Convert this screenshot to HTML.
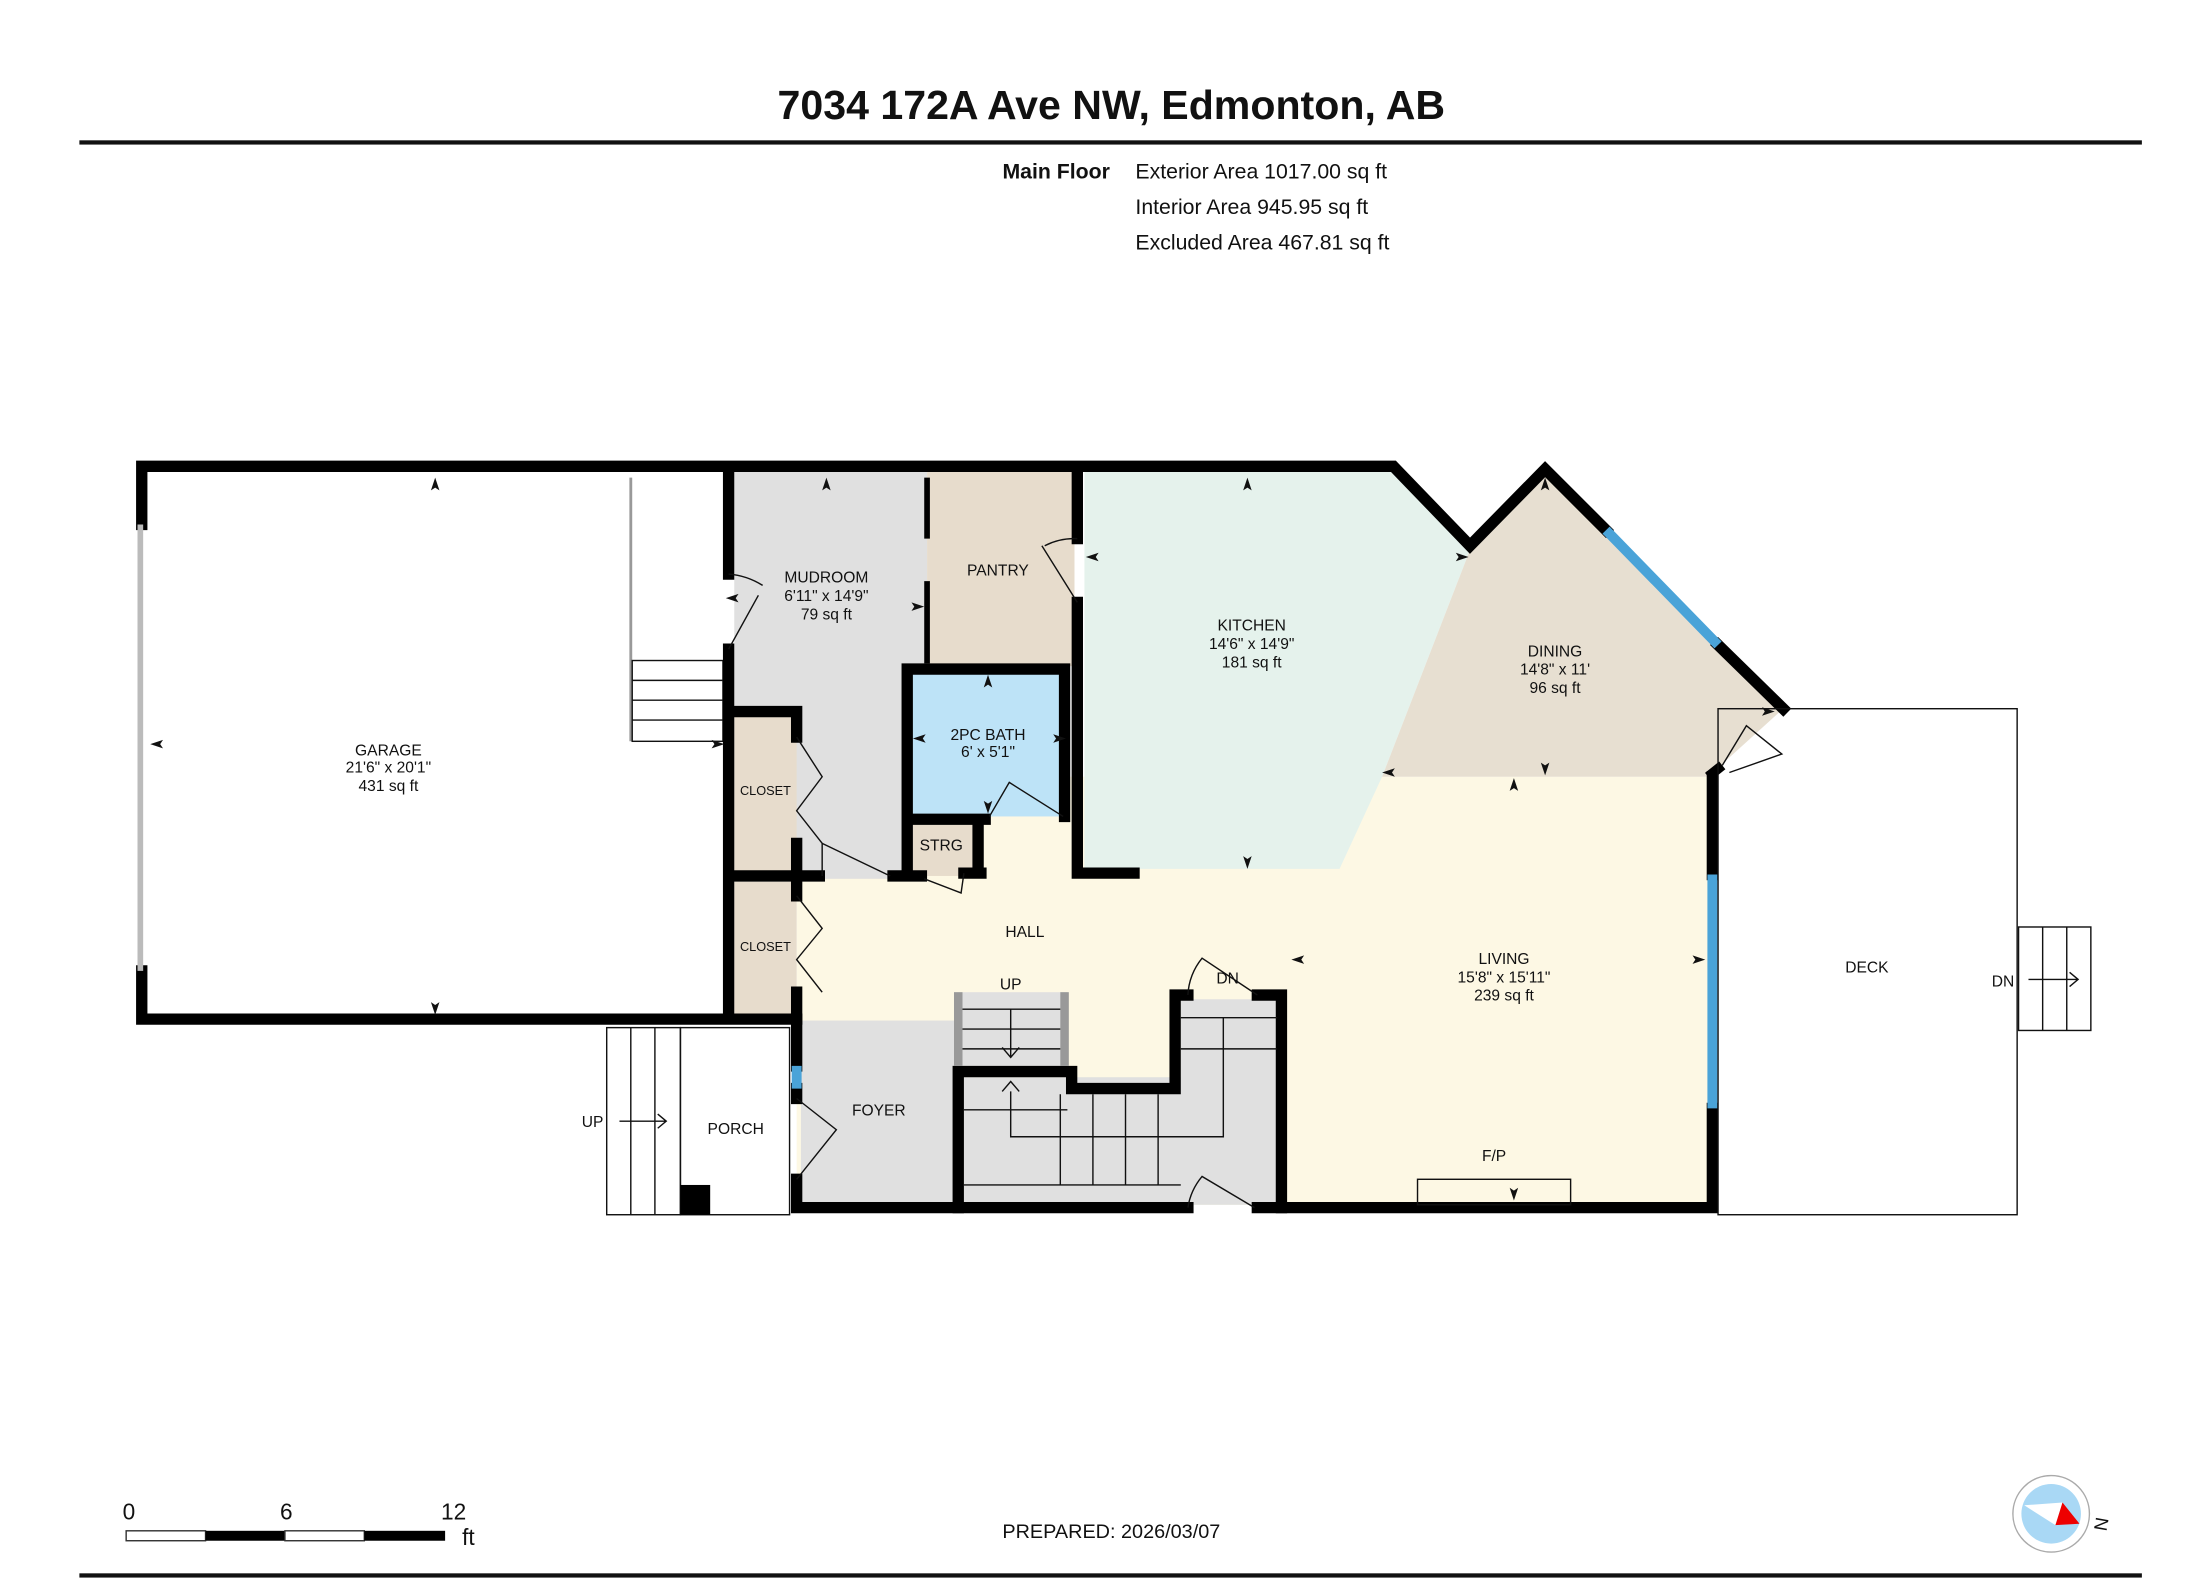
<!DOCTYPE html>
<html><head><meta charset="utf-8"><style>
html,body{margin:0;padding:0;background:#fff}
svg{display:block}
text{font-family:"Liberation Sans",sans-serif;fill:#111}
</style></head><body>
<svg width="2200" height="1579" viewBox="0 0 1552 1114" preserveAspectRatio="none" xmlns="http://www.w3.org/2000/svg">
<defs>
<polygon id="ar" points="0,-6 -3,3 0,1 3,3" fill="#111"/>
</defs>
<!-- header -->
<text x="784" y="84" font-size="29" font-weight="bold" text-anchor="middle">7034 172A Ave NW, Edmonton, AB</text>
<rect x="56" y="99" width="1455" height="3" fill="#111"/>
<text x="783" y="126" font-size="15" font-weight="bold" text-anchor="end">Main Floor</text>
<text x="801" y="126" font-size="15">Exterior Area 1017.00 sq ft</text>
<text x="801" y="151" font-size="15">Interior Area 945.95 sq ft</text>
<text x="801" y="176" font-size="15">Excluded Area 467.81 sq ft</text>

<!-- fills -->
<rect x="562" y="548" width="643" height="302" fill="#fdf8e4"/>
<polygon points="765,333 983,333 1037,388 975,548 945,613 765,613" fill="#e5f2ec"/>
<polygon points="1037,388 1090,335 1258,500 1205,548 975,548" fill="#e7dfd1"/>
<rect x="518" y="333" width="136" height="287" fill="#e0e0e0"/>
<rect x="654" y="333" width="104" height="137" fill="#e7dccc"/>
<rect x="640" y="472" width="112" height="104" fill="#bde3f7"/>
<rect x="640" y="578" width="50" height="40" fill="#e7dccc"/>
<rect x="518" y="500" width="44" height="116" fill="#e7dccc"/>
<rect x="518" y="622" width="44" height="94" fill="#e7dccc"/>
<rect x="565" y="720" width="108" height="130" fill="#e0e0e0"/>
<rect x="673" y="700" width="80" height="52" fill="#e0e0e0"/>
<rect x="680" y="760" width="221" height="90" fill="#e0e0e0"/>
<rect x="833" y="705" width="68" height="60" fill="#e0e0e0"/>

<!-- garage stair -->
<line x1="445" y1="337" x2="445" y2="523" stroke="#999" stroke-width="2"/>
<g stroke="#111" stroke-width="1" fill="none">
<rect x="446" y="466" width="64" height="57"/>
<line x1="446" y1="480" x2="510" y2="480"/><line x1="446" y1="494" x2="510" y2="494"/><line x1="446" y1="508" x2="510" y2="508"/>
</g>
<!-- walls -->
<g stroke="#000" stroke-width="8" fill="none" stroke-linecap="square" stroke-linejoin="miter">
<path d="M100,370 V329 H983 L1037,385 L1090,331 L1133,374"/>
<path d="M1212,455 L1258,500"/>
<path d="M100,685 V719 H558"/>
<path d="M514,333 V405 M514,458 V715"/>
<path d="M518,502 H562 V520 M562,595 V618 M518,618 H578 M630,618 H650"/>
<path d="M562,625 V632 M562,700 V719"/>
<path d="M562,719 V752 M562,768 V775 M562,832 V852 H838 M887,852 H1208 V782 M1208,617 V548"/>
<path d="M640,472 H751 V576 M640,472 V616 M640,578 H695 M690,578 V616 M680,616 H692"/>
<path d="M760,333 V380 M760,425 V616 H800"/>
<path d="M676,756 V852 M676,756 H756 V768 H829 V702 H838 M887,702 H904 V852"/>
</g>
<path d="M1205,548 L1215,540" stroke="#000" stroke-width="7"/>
<line x1="654" y1="337" x2="654" y2="380" stroke="#000" stroke-width="4"/>
<line x1="654" y1="410" x2="654" y2="468" stroke="#000" stroke-width="4"/>
<!-- windows -->
<line x1="99" y1="370" x2="99" y2="685" stroke="#bbb" stroke-width="4"/>
<line x1="1133" y1="374" x2="1212" y2="455" stroke="#4aa3d8" stroke-width="7"/>
<line x1="1208" y1="617" x2="1208" y2="782" stroke="#4aa3d8" stroke-width="7"/>
<line x1="562" y1="752" x2="562" y2="768" stroke="#4aa3d8" stroke-width="7"/>
<!-- stair rails & treads -->
<rect x="673" y="700" width="6" height="52" fill="#999"/><rect x="748" y="700" width="6" height="52" fill="#999"/>
<g stroke="#111" stroke-width="1" fill="none">
<line x1="679" y1="712" x2="748" y2="712"/><line x1="679" y1="726" x2="748" y2="726"/><line x1="679" y1="740" x2="748" y2="740"/>
<path d="M713,712 V746 M707,739 L713,746 L719,739"/>
<line x1="680" y1="783" x2="753" y2="783"/>
<line x1="680" y1="836" x2="833" y2="836"/>
<line x1="748" y1="772" x2="748" y2="836"/><line x1="771" y1="772" x2="771" y2="836"/><line x1="794" y1="772" x2="794" y2="836"/><line x1="817" y1="772" x2="817" y2="836"/>
<path d="M713,770 V802 H863 V718 M707,770 L713,763 L719,770"/>
<line x1="833" y1="718" x2="901" y2="718"/><line x1="833" y1="740" x2="901" y2="740"/>
<!-- doors -->
<path d="M514,458 L535,420 M514,405 A53,53 0 0 1 538,413"/>
<path d="M760,425 L735,385 M760,380 A45,45 0 0 0 737,385"/>
<path d="M562,520 L580,548 L562,572 L580,595 M562,632 L580,655 L562,677 L580,700"/>
<path d="M580,618 L580,595 L628,618"/>
<path d="M652,620 L678,630 L680,616"/>
<path d="M698,576 L712,552 L750,576"/>
<path d="M562,775 L590,797 L562,832"/>
<path d="M838,702 A45,45 0 0 1 848,676 L887,702"/>
<path d="M838,852 A45,45 0 0 1 848,830 L885,852"/>
<path d="M1215,540 L1232,512 L1257,532 L1220,545"/>
</g>
<!-- porch -->
<g stroke="#111" stroke-width="1" fill="none">
<rect x="480" y="725" width="77" height="132"/>
<rect x="428" y="725" width="52" height="132"/>
<line x1="445" y1="725" x2="445" y2="857"/><line x1="462" y1="725" x2="462" y2="857"/>
<path d="M437,791 H470 M464,786 L470,791 L464,796"/>
</g>
<rect x="480" y="836" width="21" height="21" fill="#000"/>
<!-- deck -->
<g stroke="#111" stroke-width="1" fill="none">
<rect x="1212" y="500" width="211" height="357"/>
<rect x="1424" y="654" width="51" height="73"/>
<line x1="1441" y1="654" x2="1441" y2="727"/><line x1="1458" y1="654" x2="1458" y2="727"/>
<path d="M1431,691 H1466 M1460,686 L1466,691 L1460,696"/>
<rect x="1000" y="832" width="108" height="18"/>
</g>
<!-- arrows -->
<use href="#ar" transform="translate(307,343)"/><use href="#ar" transform="translate(307,710) rotate(180)"/>
<use href="#ar" transform="translate(112,525) rotate(-90)"/><use href="#ar" transform="translate(505,525) rotate(90)"/>
<use href="#ar" transform="translate(583,343)"/><use href="#ar" transform="translate(518,422) rotate(-90)"/><use href="#ar" transform="translate(646,428) rotate(90)"/>
<use href="#ar" transform="translate(880,343)"/><use href="#ar" transform="translate(880,607) rotate(180)"/>
<use href="#ar" transform="translate(772,393) rotate(-90)"/><use href="#ar" transform="translate(1030,393) rotate(90)"/>
<use href="#ar" transform="translate(1090,343)"/><use href="#ar" transform="translate(1090,541) rotate(180)"/>
<use href="#ar" transform="translate(981,545) rotate(-90)"/><use href="#ar" transform="translate(1246,502) rotate(90)"/>
<use href="#ar" transform="translate(1068,555)"/><use href="#ar" transform="translate(1068,841) rotate(180)"/>
<use href="#ar" transform="translate(917,677) rotate(-90)"/><use href="#ar" transform="translate(1197,677) rotate(90)"/>
<use href="#ar" transform="translate(697,482)"/><use href="#ar" transform="translate(697,568) rotate(180)"/>
<use href="#ar" transform="translate(650,521) rotate(-90)"/><use href="#ar" transform="translate(746,521) rotate(90)"/>
<!-- labels -->
<g font-size="11" text-anchor="middle">
<text x="274" y="533">GARAGE</text><text x="274" y="545">21'6" x 20'1"</text><text x="274" y="558">431 sq ft</text>
<text x="583" y="411">MUDROOM</text><text x="583" y="424">6'11" x 14'9"</text><text x="583" y="437">79 sq ft</text>
<text x="704" y="406">PANTRY</text>
<text x="883" y="445">KITCHEN</text><text x="883" y="458">14'6" x 14'9"</text><text x="883" y="471">181 sq ft</text>
<text x="1097" y="463">DINING</text><text x="1097" y="476">14'8" x 11'</text><text x="1097" y="489">96 sq ft</text>
<text x="697" y="522">2PC BATH</text><text x="697" y="534">6' x 5'1"</text>
<text x="540" y="561" font-size="9">CLOSET</text><text x="540" y="671" font-size="9">CLOSET</text>
<text x="664" y="600">STRG</text>
<text x="723" y="661">HALL</text>
<text x="713" y="698">UP</text>
<text x="866" y="694">DN</text>
<text x="620" y="787">FOYER</text>
<text x="519" y="800">PORCH</text>
<text x="418" y="795">UP</text>
<text x="1061" y="680">LIVING</text><text x="1061" y="693">15'8" x 15'11"</text><text x="1061" y="706">239 sq ft</text>
<text x="1054" y="819">F/P</text>
<text x="1317" y="686">DECK</text>
<text x="1413" y="696">DN</text>
</g>
<!-- scale bar -->
<rect x="89" y="1080" width="56" height="7" fill="#fff" stroke="#333" stroke-width="1"/>
<rect x="145" y="1080" width="56" height="7" fill="#000"/>
<rect x="201" y="1080" width="56" height="7" fill="#fff" stroke="#333" stroke-width="1"/>
<rect x="257" y="1080" width="57" height="7" fill="#000"/>
<text x="91" y="1072" font-size="16" text-anchor="middle">0</text>
<text x="202" y="1072" font-size="16" text-anchor="middle">6</text>
<text x="320" y="1072" font-size="16" text-anchor="middle">12</text>
<text x="326" y="1090" font-size="16">ft</text>
<text x="784" y="1085" font-size="14" text-anchor="middle">PREPARED: 2026/03/07</text>
<!-- compass -->
<circle cx="1447" cy="1068" r="27" fill="#fff" stroke="#aaa" stroke-width="1"/>
<circle cx="1447" cy="1068" r="21" fill="#a9d8f5"/>
<polygon points="1428,1062 1455,1060 1450,1076" fill="#fff"/>
<polygon points="1455,1060 1450,1076 1467,1075" fill="#e00"/>
<text x="1482" y="1084" font-size="13" transform="rotate(-80 1482 1080)">N</text>
<rect x="56" y="1110" width="1455" height="3" fill="#111"/>
</svg>
</body></html>
